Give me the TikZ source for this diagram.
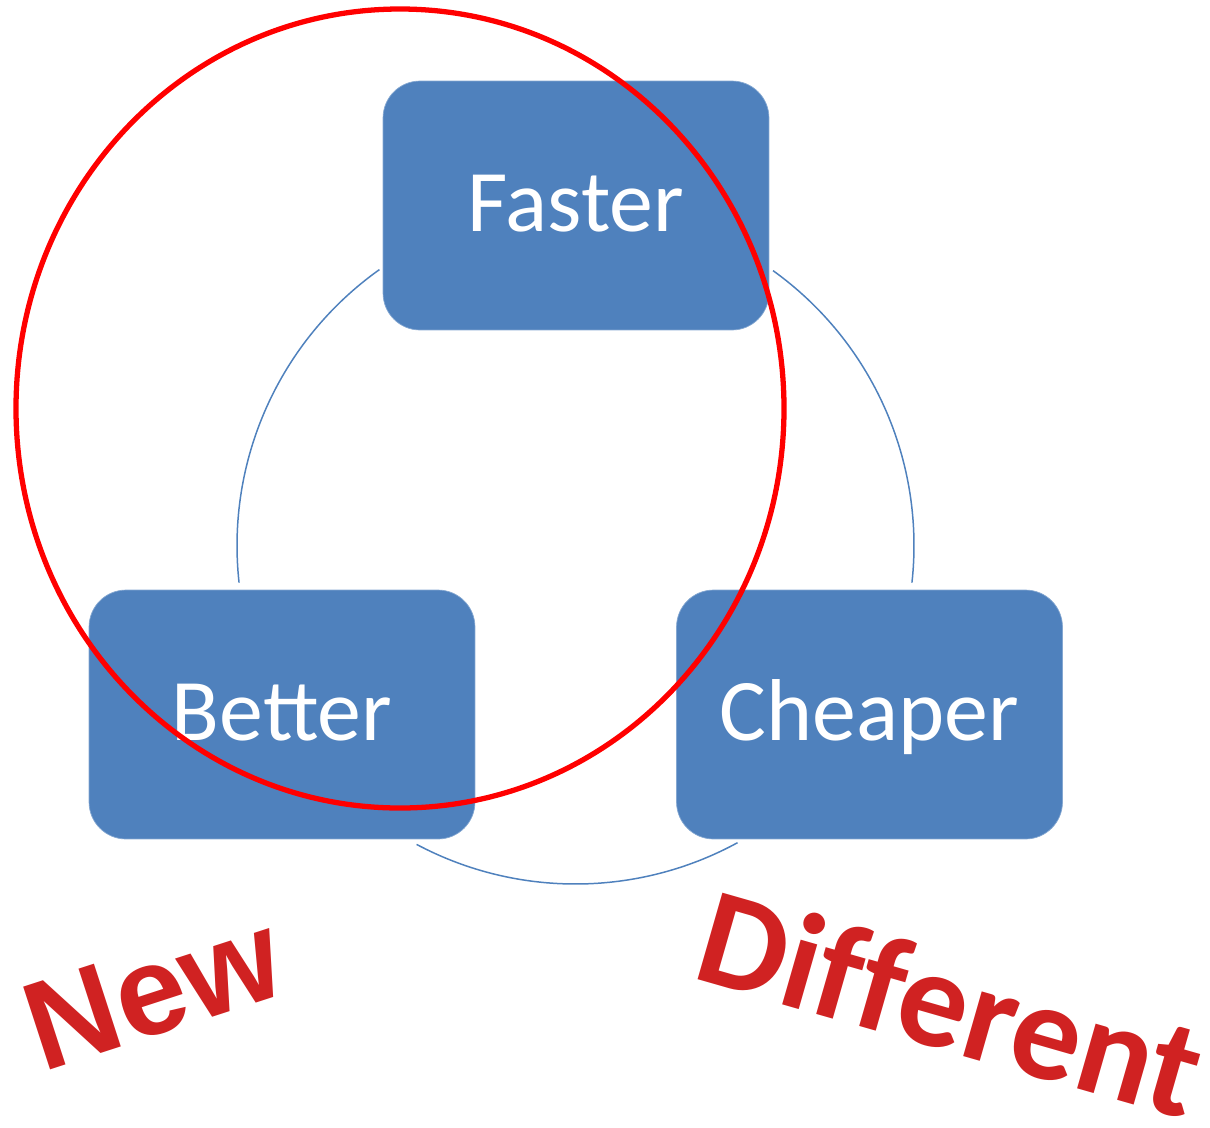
\documentclass[tikz,border=0pt]{standalone}
\usepackage{fontspec}
\setmainfont{Carlito}
\newfontfamily\stampfont{Liberation Sans}
\newfontfamily\diffont{Carlito}[Ligatures=NoCommon]
\definecolor{boxblue}{RGB}{79,129,189}
\definecolor{stampred}{RGB}{208,34,34}
\begin{document}
\begin{tikzpicture}[x=0.02cm, y=0.02cm,
    box/.style={fill=boxblue, draw=boxblue!70!white, line width=0.4pt, rounded corners=0.74cm,
      minimum width=7.72cm, minimum height=4.98cm, text=white,
      font=\fontsize{50}{60}\selectfont, text height=1.04cm, text depth=0pt},
    link/.style={draw=boxblue, line width=0.85pt},
    ring/.style={draw=red, line width=3pt},
    stamp/.style={text=stampred, anchor=base, inner sep=0pt}]
        \useasboundingbox (0,0) rectangle (1210,-1127);

        \node (faster)  at (576,-205.5) [box] {Faster};
        \node (better)  at (282,-714.5) [box] {Better};
        \node (cheaper) at (869.5,-714.5) [box] {Cheaper};

        \coordinate (hub) at (575.5,-545.5);
        \draw[link] (hub) ++(125.4:338.5) arc [start angle=125.4, end angle=186.3, radius=338.5];
        \draw[link] (hub) ++(-6.3:338.5)  arc [start angle=-6.3, end angle=54.3, radius=338.5];
        \draw[link] (hub) ++(242:338.5)   arc [start angle=242, end angle=298.6, radius=338.5];

        \coordinate (lens) at (400,-408.5);
        \draw[ring] (lens) ellipse [x radius=384, y radius=399.5];

        \node (new) at (166,-1032) [stamp, rotate=18, font=\stampfont\bfseries\fontsize{72}{82}\selectfont] {New};
        \node (different) at (938,-1049) [stamp, rotate=-16, font=\diffont\bfseries\fontsize{79}{89}\selectfont] {Different};
      \end{tikzpicture}
\end{document}
